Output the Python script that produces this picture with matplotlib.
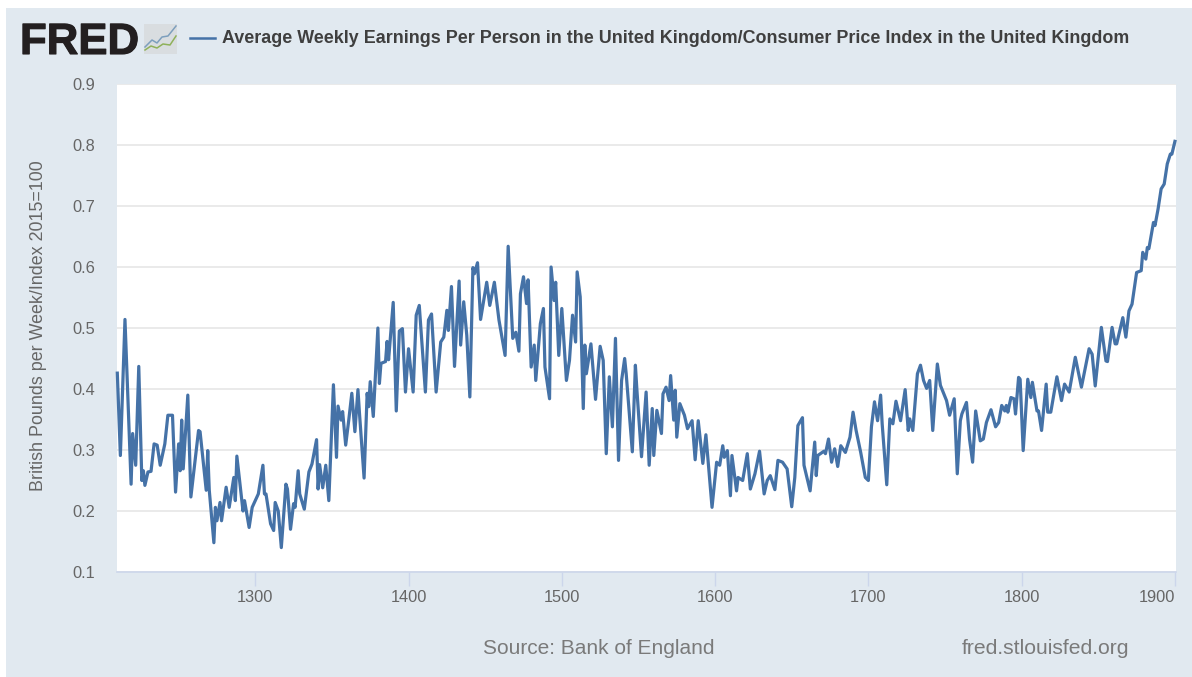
import matplotlib
matplotlib.use('Agg')
import matplotlib.pyplot as plt
import matplotlib.patheffects as pe
from matplotlib.patches import Rectangle
from matplotlib.lines import Line2D

W, H = 1192, 677

# (year, value) at the turning points of the line
points = [
    (1210, .426), (1212, .291), (1215, .514), (1219, .244), (1220, .327), (1222, .275), (1224, .437), (1226, .25),
    (1227, .266), (1228, .242), (1230, .264), (1232, .265), (1234, .31), (1236, .308), (1238, .275), (1241, .31),
    (1243, .357), (1246, .357), (1248, .231), (1250, .31), (1251, .266), (1252, .349), (1253, .269), (1256, .39),
    (1258, .223), (1261, .288), (1263, .332), (1264, .33), (1268, .234), (1269, .299), (1270, .234), (1273, .148),
    (1274, .206), (1275, .184), (1277, .214), (1278, .184), (1281, .239), (1283, .206), (1286, .255), (1287, .217),
    (1288, .29), (1292, .2), (1293, .217), (1296, .173), (1298, .206), (1302, .228), (1305, .275), (1306, .228),
    (1307, .228), (1310, .179), (1312, .168), (1313, .214), (1315, .2), (1317, .14), (1320, .244), (1321, .236),
    (1323, .17), (1325, .212), (1326, .206), (1328, .266), (1329, .228), (1332, .203), (1335, .264), (1337, .277),
    (1340, .317), (1341, .236), (1342, .276), (1344, .238), (1346, .275), (1348, .217), (1351, .407), (1353, .288),
    (1354, .372), (1356, .349), (1357, .363), (1359, .308), (1361, .349), (1363, .393), (1365, .33), (1367, .399),
    (1368, .36), (1371, .254), (1373, .393), (1374, .371), (1375, .412), (1377, .355), (1380, .5), (1381, .409),
    (1382, .442), (1385, .445), (1386, .478), (1387, .448), (1390, .542), (1392, .364), (1394, .495),
    (1396, .499), (1398, .395), (1400, .466), (1403, .395), (1405, .521), (1407, .537), (1411, .395), (1413, .513),
    (1415, .523), (1418, .395), (1421, .477), (1423, .485), (1425, .529), (1426, .496), (1428, .568), (1430, .437),
    (1433, .577), (1434, .472), (1436, .543), (1438, .488), (1440, .387), (1442, .599), (1443, .589), (1445, .607),
    (1447, .514), (1451, .575), (1453, .537), (1456, .575), (1459, .513), (1463, .455), (1465, .634), (1468, .483),
    (1470, .493), (1472, .462), (1473, .556), (1475, .584), (1477, .54), (1478, .579), (1480, .436), (1482, .472),
    (1483, .414), (1486, .507), (1488, .532), (1489, .436), (1492, .384), (1493, .6), (1495, .545), (1496, .575),
    (1498, .455), (1500, .532), (1503, .414), (1505, .447), (1507, .521), (1509, .477), (1510, .592), (1512, .551),
    (1514, .368), (1515, .472), (1516, .425), (1519, .474), (1522, .383), (1525, .47), (1527, .447), (1529, .294),
    (1531, .42), (1533, .338), (1535, .483), (1537, .283), (1539, .414), (1541, .45), (1542, .425), (1546, .297),
    (1548, .439), (1549, .398), (1552, .289), (1555, .395), (1557, .275), (1559, .368), (1560, .291), (1562, .365),
    (1565, .327), (1566, .392), (1568, .403), (1570, .381), (1571, .422), (1573, .349), (1574, .398), (1575, .321),
    (1577, .376), (1580, .357), (1582, .335), (1585, .348), (1587, .284), (1589, .348), (1592, .278), (1594, .325),
    (1598, .206), (1601, .28), (1603, .275), (1605, .307), (1606, .288), (1608, .299), (1610, .225), (1611, .291),
    (1614, .233), (1615, .255), (1618, .25), (1621, .294), (1623, .236), (1626, .261), (1629, .298), (1632, .228),
    (1634, .25), (1636, .258), (1639, .235), (1641, .283), (1644, .28), (1647, .269), (1650, .207), (1652, .255),
    (1654, .34), (1657, .353), (1658, .275), (1661, .244), (1662, .233), (1665, .313), (1666, .258), (1667, .291),
    (1671, .298), (1672, .294), (1674, .318), (1676, .28), (1678, .302), (1680, .273), (1682, .307), (1685, .296),
    (1688, .321), (1690, .362), (1692, .332), (1695, .296), (1698, .255), (1700, .25), (1702, .338), (1704, .379),
    (1706, .348), (1708, .39), (1709, .343), (1712, .243), (1714, .351), (1716, .343), (1718, .38), (1721, .348),
    (1724, .399), (1726, .332), (1727, .351), (1729, .332), (1732, .425), (1734, .439), (1736, .414), (1738, .401),
    (1740, .414), (1742, .332), (1745, .441), (1747, .406), (1751, .381), (1753, .357), (1756, .384), (1758, .261),
    (1760, .348), (1761, .359), (1764, .378), (1766, .318), (1768, .28), (1770, .364), (1773, .315), (1775, .318),
    (1777, .345), (1780, .366), (1783, .338), (1785, .345), (1787, .373), (1789, .364), (1790, .373), (1791, .362),
    (1793, .386), (1795, .384), (1796, .359), (1798, .419), (1799, .416), (1801, .299), (1804, .416), (1806, .386),
    (1807, .411), (1810, .364), (1811, .364), (1813, .332), (1816, .408), (1817, .362), (1819, .362), (1823, .42),
    (1826, .381), (1828, .408), (1831, .395), (1835, .452), (1839, .403), (1844, .466), (1846, .457), (1848, .405),
    (1852, .501), (1855, .446), (1856, .445), (1859, .501), (1861, .474), (1862, .474), (1866, .517), (1868, .485),
    (1870, .528), (1872, .539), (1875, .591), (1878, .594), (1879, .624), (1881, .613), (1882, .632), (1883, .63),
    (1886, .673), (1887, .668), (1889, .695), (1891, .728), (1893, .736), (1895, .769), (1897, .785), (1898, .785),
    (1900, .806),
]
years = [p[0] for p in points]
values = [p[1] for p in points]

x_ticks = [1300, 1400, 1500, 1600, 1700, 1800, 1900]
y_ticks = [0.1, 0.2, 0.3, 0.4, 0.5, 0.6, 0.7, 0.8, 0.9]
title = 'Average Weekly Earnings Per Person in the United Kingdom/Consumer Price Index in the United Kingdom'
y_title = 'British Pounds per Week/Index 2015=100'
source = 'Source: Bank of England'
site = 'fred.stlouisfed.org'

BG = '#e1e9f0'
BLUE = '#4572a7'


def fx(px):
    return px / W


def fy(px):
    return 1 - px / H


plt.rcParams['font.family'] = ['Liberation Sans', 'DejaVu Sans']

fig = plt.figure(figsize=(W / 100, H / 100), dpi=100, facecolor='white')
fig.add_artist(Rectangle((fx(6), 0), 1 - fx(6), fy(8), transform=fig.transFigure, fc=BG, ec='none', zorder=-1))

ax = fig.add_axes([fx(117), fy(572), fx(1176 - 117), fy(84) - fy(572)])
ax.set_facecolor('white')
ax.plot(years, values, color=BLUE, lw=2.3, solid_joinstyle='round', clip_on=False, zorder=3)
ax.set_xlim(1209.8, 1900.7)
ax.set_ylim(0.1, 0.9)
ax.set_xticks(x_ticks)
ax.set_yticks(y_ticks)
ax.set_yticklabels(['%.1f' % v for v in y_ticks])
ax.grid(axis='y', color='#e6e6e6', lw=1.2)
ax.set_axisbelow(True)
for s in ['top', 'right', 'left']:
    ax.spines[s].set_visible(False)
ax.spines['bottom'].set_color('#ccd6eb')
ax.spines['bottom'].set_linewidth(1.2)
ax.tick_params(axis='y', length=0, labelsize=11.8, labelcolor='#666666', pad=15.5)
ax.tick_params(axis='x', length=10, color='#ccd6eb', width=1, labelsize=11.8, labelcolor='#666666', pad=3)
# last label sits inside the right edge, as in the source chart
ax.get_xticklabels()[-1].set_ha('right')

fig.text(fx(39), fy(326), y_title, rotation=90, ha='center', va='center', fontsize=12.9, color='#666666')
fig.text(fx(222), fy(38.5), title, ha='left', va='center', fontsize=12.9, fontweight='bold', color='#3f3f3f')
fig.add_artist(Line2D([fx(190), fx(215)], [fy(38), fy(38)], color=BLUE, lw=1.8))
fig.text(fx(483), fy(648), source, ha='left', va='center', fontsize=15, color='#7a7a7a')
fig.text(fx(962), fy(648), site, ha='left', va='center', fontsize=15.2, color='#7a7a7a')

# FRED logo and its small icon
fig.text(fx(20), fy(42.5), 'FRED', ha='left', va='center', fontsize=31.5, fontweight='bold', color='#231f20',
         path_effects=[pe.withStroke(linewidth=0.8, foreground='#231f20')])
fig.add_artist(Rectangle((fx(144), fy(54)), fx(33), fy(24) - fy(54), transform=fig.transFigure,
                         fc='#d9dde0', ec='none'))
fig.add_artist(Line2D([fx(p) for p in (145, 152, 157, 162, 168, 176)],
                      [fy(p) for p in (47, 40, 43, 37, 36, 26)], color='#7d9fbd', lw=1.1))
fig.add_artist(Line2D([fx(p) for p in (145, 151, 157, 163, 170, 176)],
                      [fy(p) for p in (50, 46, 48, 44, 45, 36)], color='#8fb15a', lw=1.1))

fig.savefig('out.png', dpi=100, facecolor=fig.get_facecolor())
